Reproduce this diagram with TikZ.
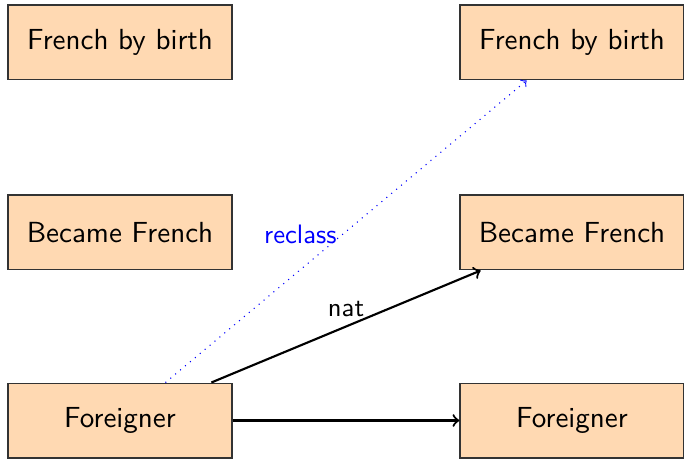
\documentclass[tikz,border=0pt]{standalone}
\usetikzlibrary{positioning}
\tikzset{
  statebox/.style={draw=black!80, thin, fill=orange!30, minimum width=84pt,
    minimum height=28.1pt, inner sep=0pt, font=\sffamily\fontsize{10.9}{13}\selectfont},
  flow/.style={->, thick, black},
  reclassflow/.style={->, dotted, blue, thin},
  lbl/.style={font=\sffamily\fontsize{10}{12}\selectfont}
}
\begin{document}
\begin{tikzpicture}[x=0.375pt, y=-0.375pt]
  \useasboundingbox (0,0) rectangle (684,459);
  % left column
  \node[statebox] (lb) at (120,42.5) {French by birth};
  \node[statebox] (lm) at (120,232.5) {Became French};
  \node[statebox] (lf) at (120,420.5) {Foreigner};
  % right column
  \node[statebox] (rb) at (572,42.5) {French by birth};
  \node[statebox] (rm) at (572,232.5) {Became French};
  \node[statebox] (rf) at (572,420.5) {Foreigner};
  % transitions
  \draw[flow] (lf) -- (rf);
  \draw[flow] (lf) -- node[lbl, above] {nat} (rm);
  \draw[reclassflow] (lf) -- node[lbl, left, text=blue, yshift=-1.2pt] {reclass} (rb);
\end{tikzpicture}
\end{document}
